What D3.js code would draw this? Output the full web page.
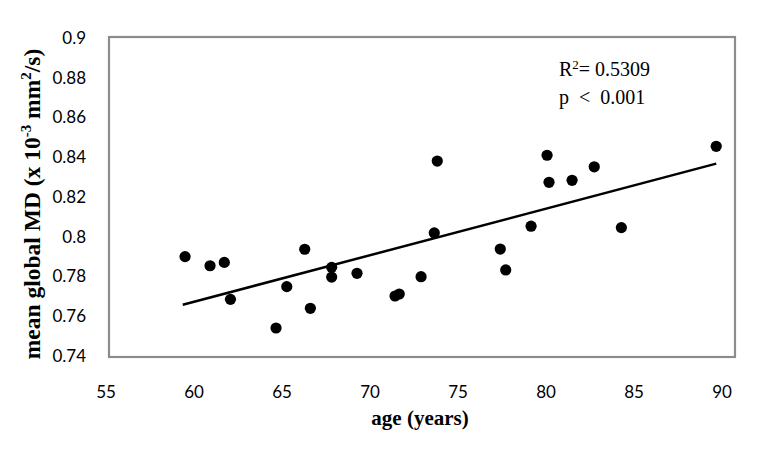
<!DOCTYPE html>
<html>
<head>
<meta charset="utf-8">
<script src="https://cdn.jsdelivr.net/npm/d3@7"></script>
<style>
  body { margin: 0; background: #fff; }
</style>
</head>
<body>
<div id="chart"></div>
<script>
// data
const ages = [59.52, 60.94, 61.75, 62.10, 64.69, 65.30, 66.32, 66.64, 67.85, 67.85,
              69.29, 71.45, 71.69, 72.93, 73.68, 73.85, 77.43, 77.74, 79.18, 80.09,
              80.20, 81.51, 82.77, 84.31, 89.70];
const md = [0.7900, 0.7854, 0.7871, 0.7685, 0.7541, 0.7749, 0.7937, 0.7640, 0.7846, 0.7797,
            0.7816, 0.7702, 0.7712, 0.7799, 0.8019, 0.8381, 0.7938, 0.7833, 0.8053, 0.8410,
            0.8274, 0.8284, 0.8352, 0.8046, 0.8455];
const xTicks = [55, 60, 65, 70, 75, 80, 85, 90];
const yTicks = [0.74, 0.76, 0.78, 0.8, 0.82, 0.84, 0.86, 0.88, 0.9];
// linear fit as drawn
const trendSlope = 0.002342;
const trendIntercept = 0.6267;
const trendRange = [59.39, 89.70];

const width = 780, height = 450;

const x = d3.scaleLinear().domain([55, 90]).range([105.5, 721.5]);
const y = d3.scaleLinear().domain([0.74, 0.9]).range([356, 38]);

const svg = d3.select('#chart').append('svg')
    .attr('width', width)
    .attr('height', height);

svg.append('rect')
    .attr('width', width).attr('height', height)
    .attr('fill', '#fff');

// plot area border
svg.append('rect')
    .attr('x', 109).attr('y', 37)
    .attr('width', 626).attr('height', 320)
    .attr('fill', 'none')
    .attr('stroke', '#8c8c8c')
    .attr('stroke-width', 2.2);

// x axis labels
const xAxis = svg.append('g')
    .attr('transform', 'translate(0, 386)')
    .call(d3.axisBottom(x).tickValues(xTicks).tickSize(0).tickPadding(0));
xAxis.select('.domain').remove();
xAxis.selectAll('text')
    .attr('font-family', 'Lato, Carlito, sans-serif')
    .attr('font-size', '17px')
    .attr('fill', '#000');

// y axis labels
const yAxis = svg.append('g')
    .attr('transform', 'translate(86, 0)')
    .call(d3.axisLeft(y).tickValues(yTicks).tickSize(0).tickPadding(0).tickFormat(d3.format('')));
yAxis.select('.domain').remove();
yAxis.selectAll('text')
    .attr('font-family', 'Lato, Carlito, sans-serif')
    .attr('font-size', '17px')
    .attr('fill', '#000');

// trend line
svg.append('line')
    .attr('x1', x(trendRange[0]))
    .attr('y1', y(trendIntercept + trendSlope * trendRange[0]))
    .attr('x2', x(trendRange[1]))
    .attr('y2', y(trendIntercept + trendSlope * trendRange[1]))
    .attr('stroke', '#000')
    .attr('stroke-width', 2.5);

// points
svg.selectAll('circle.pt')
    .data(ages.map((a, i) => ({ age: a, md: md[i] })))
    .join('circle')
    .attr('class', 'pt')
    .attr('cx', d => x(d.age))
    .attr('cy', d => y(d.md))
    .attr('r', 5.6)
    .attr('fill', '#000');

// stats annotation
const ann = svg.append('g')
    .attr('font-family', 'Liberation Serif, Times New Roman, serif')
    .attr('font-size', '20px')
    .attr('fill', '#000');
const r2 = ann.append('text').attr('x', 559).attr('y', 76);
r2.append('tspan').text('R');
r2.append('tspan').attr('font-size', '13px').attr('dy', -7).text('2');
r2.append('tspan').attr('dy', 7).text('= 0.5309');
ann.append('text').attr('x', 559).attr('y', 104).attr('xml:space', 'preserve')
    .style('white-space', 'pre').text('p  <  0.001');

// axis titles
svg.append('text')
    .attr('x', 420).attr('y', 425)
    .attr('text-anchor', 'middle')
    .attr('font-family', 'Liberation Serif, Times New Roman, serif')
    .attr('font-weight', 'bold')
    .attr('font-size', '21px')
    .text('age (years)');

const yt = svg.append('text')
    .attr('transform', 'translate(40, 204) rotate(-90)')
    .attr('text-anchor', 'middle')
    .attr('font-family', 'Liberation Serif, Times New Roman, serif')
    .attr('font-weight', 'bold')
    .attr('font-size', '23.5px');
yt.append('tspan').text('mean global MD (x 10');
yt.append('tspan').attr('font-size', '15px').attr('dy', -9).text('-3');
yt.append('tspan').attr('dy', 9).text(' mm');
yt.append('tspan').attr('font-size', '15px').attr('dy', -9).text('2');
yt.append('tspan').attr('dy', 9).text('/s)');
</script>
</body>
</html>
